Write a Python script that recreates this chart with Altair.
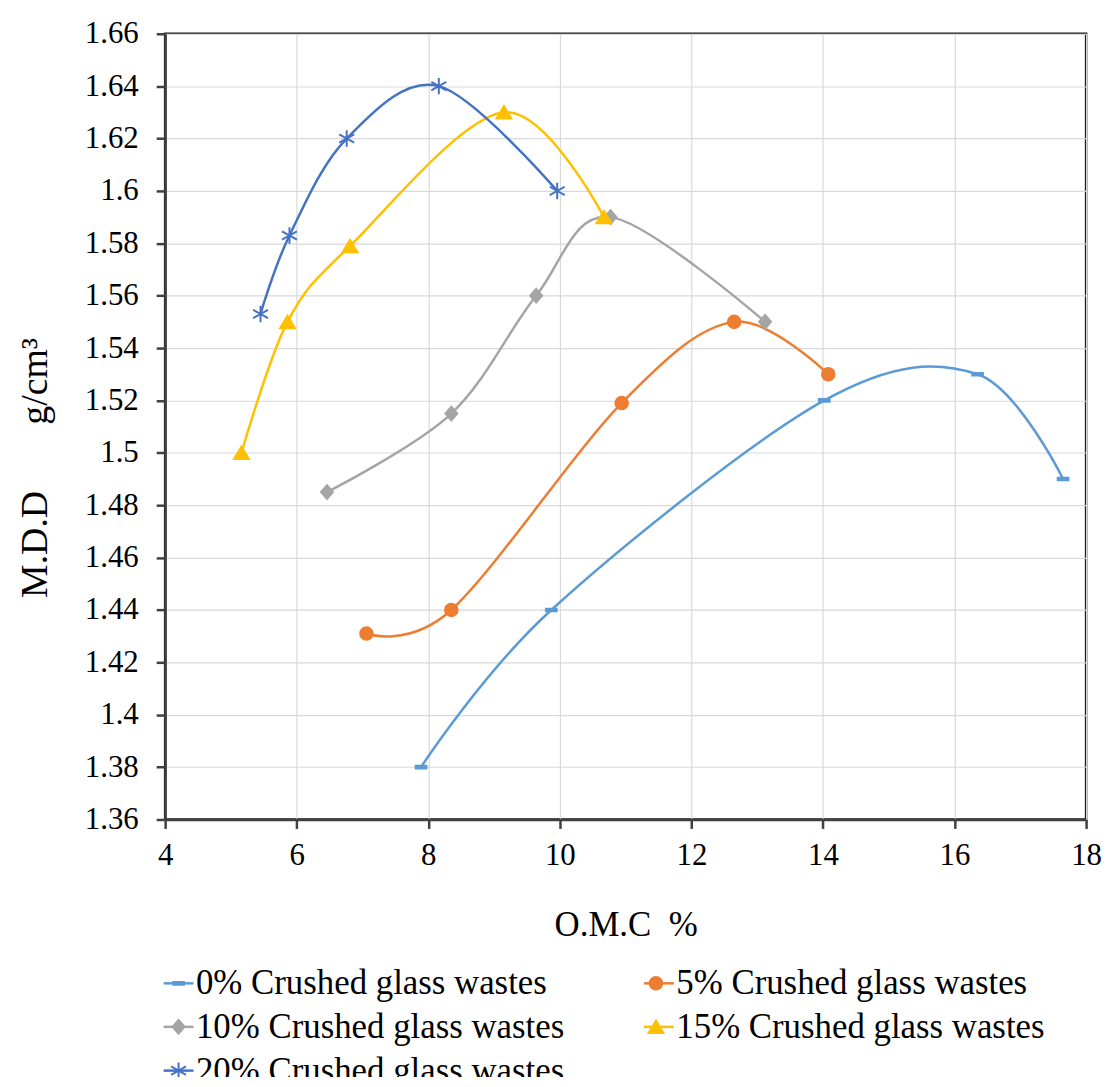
import altair as alt
import pandas as pd

series_names = [
    "0% Crushed glass wastes",
    "5% Crushed glass wastes",
    "10% Crushed glass wastes",
    "15% Crushed glass wastes",
    "20% Crushed glass wastes",
]
series_colors = ["#5B9BD5", "#ED7D31", "#A5A5A5", "#FFC000", "#4472C4"]

omc_0 = [7.89, 9.87, 14.02, 16.35, 17.65]
mdd_0 = [1.38, 1.44, 1.52, 1.53, 1.49]
omc_5 = [7.06, 8.35, 10.94, 12.65, 14.08]
mdd_5 = [1.431, 1.44, 1.519, 1.55, 1.53]
omc_10 = [6.46, 8.35, 9.64, 10.77, 13.12]
mdd_10 = [1.485, 1.515, 1.56, 1.59, 1.55]
omc_15 = [5.16, 5.86, 6.81, 9.15, 10.67]
mdd_15 = [1.50, 1.55, 1.579, 1.63, 1.59]
omc_20 = [5.45, 5.89, 6.76, 8.16, 9.96]
mdd_20 = [1.553, 1.583, 1.62, 1.64, 1.60]

x_ticks = [4, 6, 8, 10, 12, 14, 16, 18]
y_ticks = [1.36, 1.38, 1.40, 1.42, 1.44, 1.46, 1.48, 1.50, 1.52, 1.54,
           1.56, 1.58, 1.60, 1.62, 1.64, 1.66]

marker_paths = [
    "M-0.36,-0.09H0.36V0.09H-0.36Z",
    "M0.42,0A0.42,0.42,0,1,1,-0.42,0A0.42,0.42,0,1,1,0.42,0Z",
    "M0,-0.46L0.4,0L0,0.46L-0.4,0Z",
    "M0,-0.42L0.5,0.42L-0.5,0.42Z",
    "M0,-0.55V0.55M-0.5,-0.28L0.5,0.28M-0.5,0.28L0.5,-0.28",
]

NB = "\u00a0"
# marker-legend keys: same text plus an invisible trailing no-break space
marker_names = [n + NB for n in series_names]

rows = []
for name, mname, xs, ys in zip(series_names, marker_names,
                               [omc_0, omc_5, omc_10, omc_15, omc_20],
                               [mdd_0, mdd_5, mdd_10, mdd_15, mdd_20]):
    for xv, yv in zip(xs, ys):
        rows.append({"series": name, "series2": mname, "omc": xv, "mdd": yv})
df = pd.DataFrame(rows)

FONT = "Liberation Serif"

x_enc = alt.X(
    "omc:Q",
    scale=alt.Scale(domain=[4, 18], nice=False, zero=False),
    axis=alt.Axis(
        values=x_ticks, title="O.M.C" + NB * 2 + "%",
        labelFont=FONT, labelFontSize=31,
        labelFlush=False, labelOverlap=False, labelPadding=12,
        titleBaseline="alphabetic", titleY=117,
    ),
)
y_enc = alt.Y(
    "mdd:Q",
    scale=alt.Scale(domain=[1.36, 1.66], nice=False, zero=False),
    axis=alt.Axis(
        values=y_ticks, format=".2~f",
        title="M.D.D" + NB * 7 + "g/cm\u00b3",
        labelFont=FONT, labelFontSize=31,
        labelFlush=False, labelOverlap=False, labelPadding=18,
        titleFontSize=38, titleBaseline="alphabetic",
        titleX=-119, titleY=436, titleAngle=270, titleAlign="center",
    ),
)

legend_common = dict(
    orient="none", legendX=-4, legendY=937, columns=2, columnPadding=74,
    direction="horizontal",
    rowPadding=8, labelFont=FONT, labelFontSize=35, labelColor="black",
    labelOffset=0, symbolSize=900, title=None, padding=0, labelLimit=600,
)
line_legend = alt.Legend(symbolType="stroke", symbolStrokeWidth=2.5, **legend_common)
point_legend = alt.Legend(labelOpacity=0, symbolStrokeWidth=2, **legend_common)

lines = alt.Chart(df).mark_line(interpolate="cardinal", strokeWidth=2.5).encode(
    x=x_enc,
    y=y_enc,
    color=alt.Color("series:N",
                    scale=alt.Scale(domain=series_names, range=series_colors),
                    legend=line_legend),
)

points = alt.Chart(df).mark_point(filled=True, size=900, strokeWidth=2, opacity=1).encode(
    x=x_enc,
    y=y_enc,
    shape=alt.Shape("series2:N",
                    scale=alt.Scale(domain=marker_names, range=marker_paths),
                    legend=point_legend),
    fill=alt.Fill("series2:N",
                  scale=alt.Scale(domain=marker_names, range=series_colors),
                  legend=point_legend),
    stroke=alt.Stroke("series2:N",
                      scale=alt.Scale(domain=marker_names, range=series_colors),
                      legend=point_legend),
)

chart = alt.layer(lines, points).properties(
    width=926, height=790,
    padding={"left": 158, "top": 23, "right": 18, "bottom": 256},
    autosize=alt.AutoSizeParams(type="none"),
    background="white",
).configure(
    font=FONT,
    style={"guide-label": {"font": FONT}, "guide-title": {"font": FONT}},
).configure_view(
    stroke="#1a1a1a", strokeWidth=2.5
).configure_axis(
    grid=True, gridColor="#D9D9D9", gridWidth=1.2,
    domainColor="#404040", domainWidth=2.5,
    tickColor="#404040", tickWidth=2.5, tickSize=9,
    labelFont=FONT, labelFontSize=31, labelColor="black",
    titleFont=FONT, titleFontSize=35, titleFontWeight="normal",
    titleColor="black",
)

chart.save("out.html", embed_options={"renderer": "svg", "actions": False})
